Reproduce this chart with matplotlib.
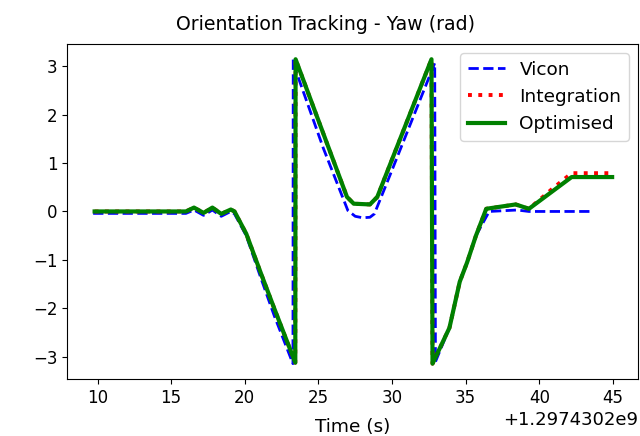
import numpy as np
import matplotlib
matplotlib.use('Agg')
import matplotlib.pyplot as plt

t0 = 1.2974302e9

# Vicon (ground truth)
t_vicon = [9.7, 16.0, 16.55, 17.2, 17.8, 18.4, 19.05, 19.3, 20.1, 21.1, 22.0,
           23.27, 23.29, 23.45, 25.34, 27.0, 27.5, 28.0, 28.5, 28.8, 29.6, 32.9,
           32.95, 33.9, 34.6, 35.1, 35.7, 36.6, 38.5, 39.3, 43.7]
y_vicon = [-0.04, -0.04, 0.03, -0.08, 0.03, -0.1, 0.0, -0.05, -0.5, -1.38, -2.15,
           -3.14, 3.14, 2.92, 1.3, 0.02, -0.1, -0.13, -0.12, -0.05, 0.55, 3.06,
           -3.1, -2.4, -1.45, -1.05, -0.5, 0.0, 0.03, 0.0, 0.0]

# Optimised
t_opt = [9.8, 16.0, 16.55, 17.2, 17.8, 18.4, 19.05, 19.3, 20.1, 21.1, 22.0,
         23.43, 23.45, 26.94, 27.4, 28.5, 29.0, 32.68, 32.75,
         33.9, 34.6, 35.1, 35.7, 36.4, 38.4, 39.3, 42.2, 44.95]
y_opt = [0.0, 0.0, 0.08, -0.03, 0.08, -0.05, 0.04, 0.0, -0.46, -1.28, -2.0,
         -3.12, 3.14, 0.3, 0.16, 0.145, 0.3, 3.14, -3.14,
         -2.4, -1.45, -1.05, -0.5, 0.055, 0.145, 0.055, 0.71, 0.71]

# Integration
t_int = t_opt[:-2] + [40.9, 42.2, 44.95]
y_int = y_opt[:-2] + [0.47, 0.79, 0.79]

fig = plt.figure(figsize=(6.4, 4.36), dpi=100)
ax = fig.add_axes([0.105, 0.131, 0.892, 0.768])
ax.plot(t0 + np.array(t_vicon), y_vicon, 'b--', lw=2, label='Vicon')
ax.plot(t0 + np.array(t_int), y_int, 'r:', lw=2.8, label='Integration')
ax.plot(t0 + np.array(t_opt), y_opt, 'g-', lw=3, label='Optimised')
fig.text(325 / 640, 1 - 24 / 436, 'Orientation Tracking - Yaw (rad)',
         fontsize=13.6, ha='center', va='center')
ax.set_xlabel('Time (s)', fontsize=13.3, labelpad=8)
ax.tick_params(labelsize=12)
ax.xaxis.get_offset_text().set_fontsize(13)
ax.legend(loc='upper right', fontsize=13.3)
fig.savefig('out.png')
